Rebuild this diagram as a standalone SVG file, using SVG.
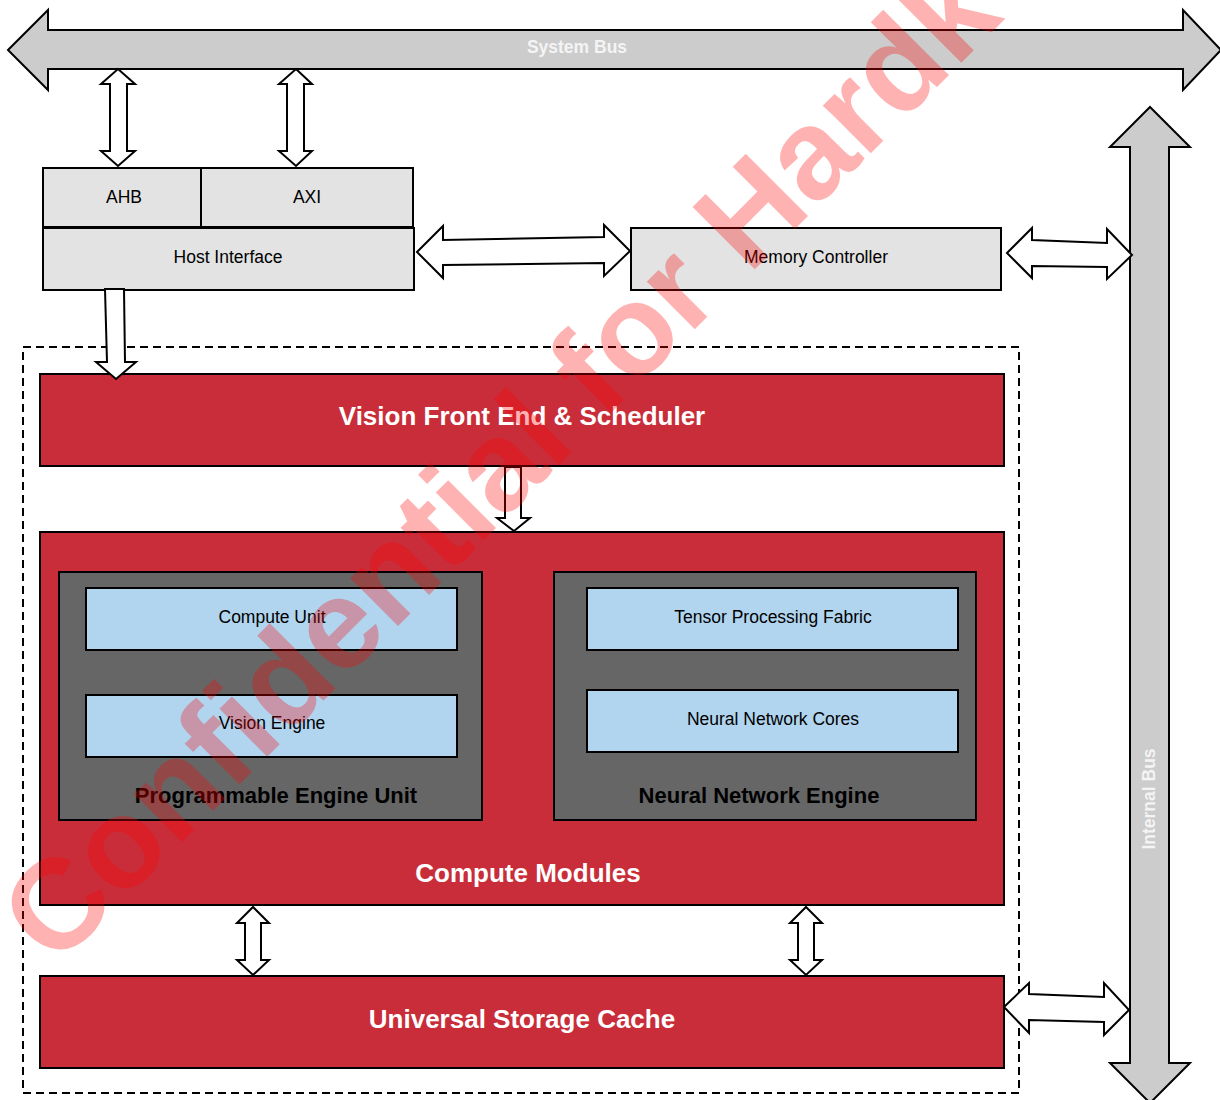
<svg xmlns="http://www.w3.org/2000/svg" width="1220" height="1100" viewBox="0 0 1220 1100">
<style>
.bus{fill:#cccccc;stroke:#000;stroke-width:2;stroke-linejoin:miter}
.arr{fill:#fff;stroke:#000;stroke-width:2;stroke-linejoin:miter}
.lg{fill:#e3e3e3;stroke:#000;stroke-width:2}
.red{fill:#c92d39;stroke:#000;stroke-width:2}
.dk{fill:#666666;stroke:#000;stroke-width:2}
.bl{fill:#b1d4ef;stroke:#000;stroke-width:2}
.t{font-family:"Liberation Sans",Arial,sans-serif;font-size:17.5px;fill:#000;text-anchor:middle}
.tw{font-family:"Liberation Sans",Arial,sans-serif;font-size:26px;font-weight:bold;fill:#fff;text-anchor:middle}
.tb{font-family:"Liberation Sans",Arial,sans-serif;font-size:22px;font-weight:bold;fill:#000;text-anchor:middle}
.tbus{font-family:"Liberation Sans",Arial,sans-serif;font-size:17.5px;font-weight:bold;fill:#f4f4f4;text-anchor:middle}
</style>
<rect width="1220" height="1100" fill="#fff"/>
<g id="system-bus">
<polygon class="bus" points="8,50 48,10 48,30 1183,30 1183,10 1221,50 1183,90 1183,69 48,69 48,90"/>
<text class="tbus" x="577" y="53">System Bus</text>
</g>
<g id="internal-bus">
<polygon class="bus" points="1150,107 1190,147 1169,147 1169,1063 1190,1063 1150,1103 1110,1063 1130,1063 1130,147 1110,147"/>
<text class="tbus" transform="translate(1155,799) rotate(-90)">Internal Bus</text>
</g>
<g id="accelerator-container">
<rect x="23" y="347" width="996" height="746" fill="none" stroke="#000" stroke-width="2" stroke-dasharray="8 5"/>
</g>
<g id="ahb">
<rect class="lg" x="43" y="168" width="158" height="59"/>
<text class="t" x="124" y="203">AHB</text>
</g>
<g id="axi">
<rect class="lg" x="201" y="168" width="212" height="59"/>
<text class="t" x="307" y="203">AXI</text>
</g>
<g id="host-interface">
<rect class="lg" x="43" y="228" width="371" height="62"/>
<text class="t" x="228" y="263">Host Interface</text>
</g>
<g id="memory-controller">
<rect class="lg" x="631" y="228" width="370" height="62"/>
<text class="t" x="816" y="263">Memory Controller</text>
</g>
<g id="vision-front-end">
<rect class="red" x="40" y="374" width="964" height="92"/>
<text class="tw" x="522" y="425">Vision Front End &amp; Scheduler</text>
</g>
<g id="compute-modules">
<rect class="red" x="40" y="532" width="964" height="373"/>
<text class="tw" x="528" y="882">Compute Modules</text>
</g>
<g id="programmable-engine-unit">
<rect class="dk" x="59" y="572" width="423" height="248"/>
<text class="tb" x="276" y="803">Programmable Engine Unit</text>
</g>
<g id="compute-unit">
<rect class="bl" x="86" y="588" width="371" height="62"/>
<text class="t" x="272" y="623">Compute Unit</text>
</g>
<g id="vision-engine">
<rect class="bl" x="86" y="695" width="371" height="62"/>
<text class="t" x="272" y="729">Vision Engine</text>
</g>
<g id="neural-network-engine">
<rect class="dk" x="554" y="572" width="422" height="248"/>
<text class="tb" x="759" y="803">Neural Network Engine</text>
</g>
<g id="tensor-processing-fabric">
<rect class="bl" x="587" y="588" width="371" height="62"/>
<text class="t" x="773" y="623">Tensor Processing Fabric</text>
</g>
<g id="neural-network-cores">
<rect class="bl" x="587" y="690" width="371" height="62"/>
<text class="t" x="773" y="725">Neural Network Cores</text>
</g>
<g id="universal-storage-cache">
<rect class="red" x="40" y="976" width="964" height="92"/>
<text class="tw" x="522" y="1028">Universal Storage Cache</text>
</g>
<g id="connectors">
<polygon class="arr" points="118,69 135,84 127,84 127,151 135,151 118,166 101,151 110,151 110,84 101,84"/>
<polygon class="arr" points="296,69 312,84 304,84 304,151 312,151 296,166 279,151 287,151 287,84 279,84"/>
<polygon class="arr" points="417,252 443,226 443,240 604,237 604,225 630,251 604,276 604,263 443,265 443,278"/>
<polygon class="arr" points="1007,253 1032,228 1032,240 1107,243 1107,229 1132,255 1107,279 1107,267 1032,266 1032,278"/>
<polygon class="arr" points="105,289 124,289 125,362 136,362 116,379 96,362 107,362"/>
<polygon class="arr" points="505,467 521,467 521,518 530,518 514,531 497,518 505,518"/>
<polygon class="arr" points="253,907 269,923 261,923 261,960 269,960 253,975 237,960 245,960 245,923 237,923"/>
<polygon class="arr" points="806,907 822,923 814,923 814,960 822,960 806,975 790,960 798,960 798,923 790,923"/>
<polygon class="arr" points="1004,1007 1029,983 1029,994 1104,997 1104,983 1129,1010 1104,1035 1104,1022 1029,1020 1029,1033"/>
</g>
<g id="watermark">
<text x="55" y="969" transform="rotate(-45 55 969)" font-family="Liberation Sans, Arial, sans-serif" font-size="128" font-weight="bold" fill="#ff0000" fill-opacity="0.3">Confidential for Hardk</text>
</g>
</svg>
